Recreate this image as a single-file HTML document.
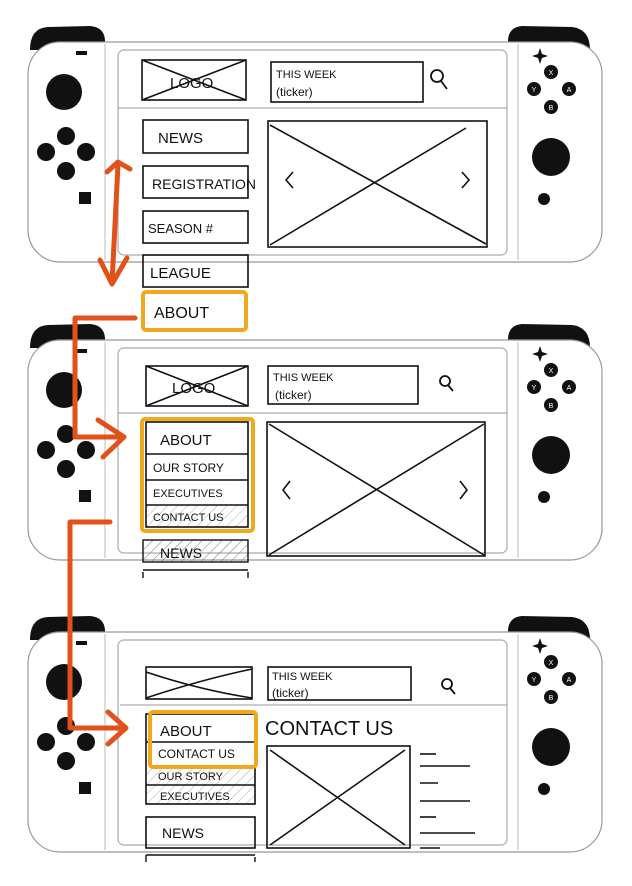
<!DOCTYPE html>
<html><head><meta charset="utf-8"><style>
html,body{margin:0;padding:0;background:#fff;}
svg{display:block;}
text{font-family:"Liberation Sans",sans-serif;fill:#111;}
</style></head><body>
<svg width="632" height="886" viewBox="0 0 632 886" xmlns="http://www.w3.org/2000/svg">
<defs>
<pattern id="hatch" width="7" height="7" patternUnits="userSpaceOnUse" patternTransform="rotate(45)">
<line x1="0" y1="0" x2="0" y2="7" stroke="#777" stroke-width="1"/>
</pattern>
<g id="shell">
<path d="M30 50 Q30 28 48 27 L90 26 Q104 27 105 40 L105 50 Z" fill="#111"/>
<path d="M508 40 Q509 27 522 26 L572 27 Q590 29 590 50 L508 50 Z" fill="#111"/>
<rect x="28" y="42" width="574" height="220" rx="32" fill="#fff" stroke="#999" stroke-width="1.2"/>
<line x1="105" y1="44" x2="105" y2="260" stroke="#bbb" stroke-width="1"/>
<line x1="518" y1="44" x2="518" y2="260" stroke="#bbb" stroke-width="1"/>
<rect x="118" y="50" width="389" height="205" rx="6" fill="none" stroke="#aaa" stroke-width="1.2"/>
<rect x="76" y="51" width="11" height="4" fill="#111"/>
<circle cx="64" cy="92" r="18" fill="#111"/>
<circle cx="66" cy="136" r="9" fill="#111"/>
<circle cx="46" cy="152" r="9" fill="#111"/>
<circle cx="86" cy="152" r="9" fill="#111"/>
<circle cx="66" cy="171" r="9" fill="#111"/>
<rect x="79" y="192" width="12" height="12" fill="#111"/>
<path d="M540 48 L542 54 L548 56 L542 58 L540 64 L538 58 L532 56 L538 54 Z" fill="#111"/>
<circle cx="551" cy="72" r="7" fill="#111"/><text x="551" y="75" font-size="7" text-anchor="middle" style="fill:#fff">X</text>
<circle cx="534" cy="89" r="7" fill="#111"/><text x="534" y="92" font-size="7" text-anchor="middle" style="fill:#fff">Y</text>
<circle cx="569" cy="89" r="7" fill="#111"/><text x="569" y="92" font-size="7" text-anchor="middle" style="fill:#fff">A</text>
<circle cx="551" cy="107" r="7" fill="#111"/><text x="551" y="110" font-size="7" text-anchor="middle" style="fill:#fff">B</text>
<circle cx="551" cy="157" r="19" fill="#111"/>
<circle cx="544" cy="199" r="6" fill="#111"/>
</g>
</defs>

<!-- Panel 1 -->
<g>
<use href="#shell"/>
<g stroke="#111" stroke-width="1.6" fill="none">
<rect x="142" y="60" width="104" height="40"/><line x1="142" y1="100" x2="246" y2="60"/><line x1="142" y1="60" x2="246" y2="100"/>
</g>
<text x="170" y="88" font-size="15">LOGO</text>
<rect x="271" y="62" width="152" height="40" fill="none" stroke="#111" stroke-width="1.6"/>
<text x="276" y="78" font-size="11">THIS WEEK</text>
<text x="276" y="96" font-size="12">(ticker)</text>
<g stroke="#111" stroke-width="1.8" fill="none"><circle cx="437" cy="76" r="6"/><line x1="441" y1="81" x2="447" y2="89"/></g>
<line x1="118" y1="108" x2="507" y2="108" stroke="#999"/>
<g stroke="#111" stroke-width="1.6" fill="none">
<rect x="143" y="120" width="105" height="33"/>
<rect x="143" y="166" width="105" height="32"/>
<rect x="143" y="211" width="105" height="32"/>
<rect x="143" y="255" width="105" height="32"/>
</g>
<text x="158" y="143" font-size="15">NEWS</text>
<text x="152" y="189" font-size="14">REGISTRATION</text>
<text x="148" y="233" font-size="13">SEASON #</text>
<text x="150" y="278" font-size="15">LEAGUE</text>
<rect x="143" y="292" width="103" height="38" fill="none" stroke="#f2a81d" stroke-width="4" rx="3"/>
<text x="154" y="318" font-size="16">ABOUT</text>
<g stroke="#111" stroke-width="1.6" fill="none">
<rect x="268" y="121" width="219" height="126"/><line x1="270" y1="125" x2="486" y2="244"/><line x1="270" y1="245" x2="466" y2="128"/>
<path d="M293 172 L286 180 L293 188"/><path d="M462 172 L469 180 L462 188"/>
</g>
</g>

<!-- Panel 2 -->
<g>
<use href="#shell" y="298"/>
<g stroke="#111" stroke-width="1.6" fill="none">
<rect x="146" y="366" width="102" height="40"/><line x1="146" y1="406" x2="248" y2="366"/><line x1="146" y1="366" x2="248" y2="406"/>
</g>
<text x="172" y="393" font-size="15">LOGO</text>
<rect x="268" y="366" width="150" height="38" fill="none" stroke="#111" stroke-width="1.6"/>
<text x="273" y="381" font-size="11">THIS WEEK</text>
<text x="275" y="399" font-size="12">(ticker)</text>
<g stroke="#111" stroke-width="1.8" fill="none"><circle cx="445" cy="381" r="5"/><line x1="448" y1="385" x2="453" y2="391"/></g>
<line x1="118" y1="413" x2="507" y2="413" stroke="#999"/>
<rect x="146" y="505" width="102" height="22" fill="url(#hatch)" opacity="0.6"/>
<g stroke="#111" stroke-width="1.6" fill="none">
<rect x="146" y="422" width="102" height="105"/>
<line x1="146" y1="454" x2="248" y2="454"/><line x1="146" y1="480" x2="248" y2="480"/><line x1="146" y1="505" x2="248" y2="505"/>
</g>
<rect x="142" y="419" width="111" height="112" fill="none" stroke="#f2a81d" stroke-width="4" rx="3"/>
<text x="160" y="445" font-size="15">ABOUT</text>
<text x="153" y="472" font-size="12">OUR STORY</text>
<text x="153" y="497" font-size="11">EXECUTIVES</text>
<text x="153" y="521" font-size="11">CONTACT US</text>
<rect x="143" y="540" width="105" height="22" fill="url(#hatch)" stroke="#111" stroke-width="1.4"/>
<text x="160" y="558" font-size="14">NEWS</text>
<path d="M143 570 L248 570 M143 572 L143 578 M248 572 L248 578" stroke="#111" stroke-width="1.4"/>
<g stroke="#111" stroke-width="1.6" fill="none">
<rect x="267" y="422" width="218" height="134"/><line x1="269" y1="424" x2="484" y2="555"/><line x1="269" y1="555" x2="484" y2="424"/>
<path d="M290 481 L283 490 L290 499"/><path d="M460 481 L467 490 L460 499"/>
</g>
</g>

<!-- Panel 3 -->
<g>
<use href="#shell" y="590"/>
<g stroke="#111" stroke-width="1.6" fill="none">
<rect x="146" y="667" width="106" height="32"/><path d="M146 672 Q200 690 252 698"/><path d="M146 698 Q200 680 252 669"/>
</g>
<rect x="268" y="667" width="143" height="33" fill="none" stroke="#111" stroke-width="1.6"/>
<text x="272" y="680" font-size="11">THIS WEEK</text>
<text x="272" y="697" font-size="12">(ticker)</text>
<g stroke="#111" stroke-width="1.8" fill="none"><circle cx="447" cy="684" r="5"/><line x1="450" y1="688" x2="455" y2="694"/></g>
<line x1="120" y1="705" x2="507" y2="705" stroke="#999"/>
<rect x="146" y="766" width="109" height="38" fill="url(#hatch)" opacity="0.6"/>
<g stroke="#111" stroke-width="1.6" fill="none">
<rect x="146" y="714" width="109" height="90"/><line x1="146" y1="742" x2="255" y2="742"/><line x1="146" y1="785" x2="255" y2="785"/>
</g>
<rect x="150" y="712" width="106" height="55" fill="none" stroke="#f2a81d" stroke-width="4" rx="3"/>
<text x="160" y="736" font-size="15">ABOUT</text>
<text x="158" y="758" font-size="12">CONTACT US</text>
<text x="158" y="780" font-size="11">OUR STORY</text>
<text x="160" y="800" font-size="11">EXECUTIVES</text>
<rect x="146" y="817" width="109" height="31" fill="none" stroke="#111" stroke-width="1.6"/>
<text x="162" y="838" font-size="14">NEWS</text>
<path d="M146 855 L255 855 M146 855 L146 862 M255 857 L255 862" stroke="#111" stroke-width="1.4"/>
<text x="265" y="735" font-size="20">CONTACT US</text>
<g stroke="#111" stroke-width="1.6" fill="none">
<rect x="267" y="746" width="143" height="102"/><line x1="270" y1="750" x2="405" y2="845"/><line x1="270" y1="845" x2="405" y2="750"/>
</g>
<g stroke="#111" stroke-width="1.6">
<line x1="420" y1="754" x2="436" y2="754"/><line x1="420" y1="766" x2="470" y2="766"/>
<line x1="420" y1="783" x2="438" y2="783"/><line x1="420" y1="801" x2="470" y2="801"/>
<line x1="420" y1="817" x2="436" y2="817"/><line x1="420" y1="833" x2="475" y2="833"/>
<line x1="420" y1="848" x2="440" y2="848"/>
</g>
</g>

<!-- Orange flow arrows -->
<g stroke="#e0521a" stroke-width="5" fill="none" stroke-linecap="round" stroke-linejoin="round">
<g>
<line x1="118" y1="165" x2="112" y2="283"/><path d="M107 172 L118 162 L130 169"/><path d="M100 260 L112 284 L127 258"/>
</g>
<g>
<path d="M135 318 L75 318 L75 437 L122 437"/><path d="M98 420 L124 437 L103 457"/>
</g>
<g>
<path d="M110 522 L70 522 L70 728 L124 728"/><path d="M108 712 L126 728 L108 744"/>
</g>
</g>
</svg>
</body></html>
